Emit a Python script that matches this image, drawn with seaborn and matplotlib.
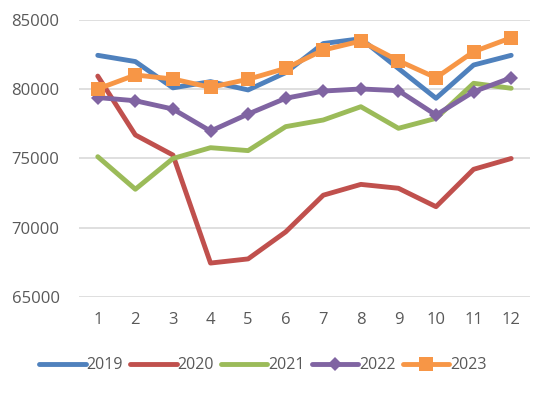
import numpy as np
import pandas as pd
import matplotlib
matplotlib.use("Agg")
import matplotlib.pyplot as plt
import seaborn as sns

months = list(range(1, 13))
y2019 = [82450, 82000, 80100, 80550, 79950, 81200, 83300, 83650, 81500, 79350, 81750, 82450]
y2020 = [80950, 76700, 75250, 67450, 67750, 69700, 72350, 73130, 72850, 71520, 74220, 75000]
y2021 = [75130, 72780, 75000, 75780, 75570, 77300, 77780, 78740, 77180, 77900, 80430, 80070]
y2022 = [79400, 79170, 78570, 76980, 78210, 79350, 79870, 80020, 79900, 78140, 79820, 80830]
y2023 = [80020, 81030, 80740, 80140, 80720, 81510, 82830, 83480, 82060, 80830, 82710, 83720]
years = ["2019", "2020", "2021", "2022", "2023"]
yticks = [65000, 70000, 75000, 80000, 85000]

rows = []
for yr, vals in zip(years, [y2019, y2020, y2021, y2022, y2023]):
    for m, v in zip(months, vals):
        rows.append({"month": m, "value": v, "year": yr})
df = pd.DataFrame(rows)

sns.set_theme(style="white")
plt.rcParams["font.family"] = ["Open Sans", "DejaVu Sans"]

colors = {"2019": "#4F81BD", "2020": "#C0504D", "2021": "#9BBB59", "2022": "#8064A2", "2023": "#F79646"}
markers = {"2019": "", "2020": "", "2021": "", "2022": "D", "2023": "s"}
msize = {"2019": 0, "2020": 0, "2021": 0, "2022": 7, "2023": 10}

fig = plt.figure(figsize=(5.5, 3.93), dpi=100)
ax = fig.add_axes([0.1436, 0.2443, 0.82, 0.7048])

for yr in years:
    sub = df[df["year"] == yr]
    sns.lineplot(data=sub, x="month", y="value", ax=ax, color=colors[yr],
                 linewidth=3.5, marker=markers[yr] if markers[yr] else None,
                 markersize=msize[yr], markeredgewidth=0, label=yr,
                 solid_capstyle="round")

ax.set_xlim(0.5, 12.5)
ax.set_ylim(65000, 85000)
ax.set_yticks(yticks)
ax.set_yticklabels([str(t) for t in yticks])
ax.set_xticks(months)
ax.set_xticklabels([str(m) for m in months])
ax.grid(axis="y", color="#D9D9D9", linewidth=1.2)
ax.set_axisbelow(True)
for s in ax.spines.values():
    s.set_visible(False)
ax.tick_params(axis="both", length=0, labelsize=12, colors="#595959")
ax.tick_params(axis="x", pad=11)
ax.tick_params(axis="y", pad=14)
ax.set_xlabel("")
ax.set_ylabel("")

h, l = ax.get_legend_handles_labels()
ax.legend_.remove()
fig.legend(h, l, loc="center", bbox_to_anchor=(0.478, 0.071), ncol=5, frameon=False,
           fontsize=11.5, handlelength=2.9, columnspacing=0.45, handletextpad=0.05,
           labelcolor="#595959")

fig.savefig("out.png", dpi=100)
